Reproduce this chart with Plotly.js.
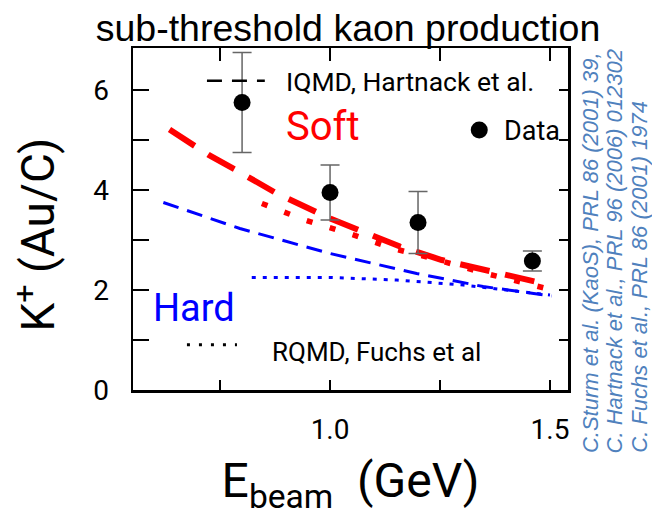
<!DOCTYPE html>
<html>
<head>
<meta charset="utf-8">
<script src="https://cdn.plot.ly/plotly-3.0.1.min.js"></script>
<style>
  html, body { margin: 0; padding: 0; background: #fff; }
  #chart { width: 652px; height: 525px; }
</style>
</head>
<body>
<div id="chart"></div>
<script>
// Beam energy (GeV) and K+ yield ratio Au/C

// KaoS measurement
const dataEnergy = [0.80, 1.00, 1.20, 1.46];
const dataRatio  = [5.75, 3.95, 3.35, 2.58];
const dataError  = [1.00, 0.55, 0.62, 0.20];

// IQMD, soft equation of state
const iqmdSoftEnergy = [0.635, 0.693, 0.724, 0.784, 0.875, 1.000, 1.159, 1.254, 1.360, 1.466, 1.490];
const iqmdSoftRatio  = [5.21, 4.88, 4.70, 4.41, 3.95, 3.43, 2.87, 2.60, 2.37, 2.17, 2.13];

// RQMD, soft equation of state
const rqmdSoftEnergy = [0.845, 0.943, 1.043, 1.144, 1.246, 1.345, 1.447, 1.500];
const rqmdSoftRatio  = [3.73, 3.40, 3.13, 2.83, 2.60, 2.35, 2.13, 2.01];

// IQMD, hard equation of state
const iqmdHardEnergy = [0.621, 0.795, 1.000, 1.197, 1.348, 1.504];
const iqmdHardRatio  = [3.75, 3.23, 2.73, 2.33, 2.07, 1.88];

// RQMD, hard equation of state
const rqmdHardEnergy = [0.822, 1.000, 1.152, 1.303, 1.500];
const rqmdHardRatio  = [2.25, 2.25, 2.20, 2.10, 1.90];

// Axis ticks
const xTickVals = [0.75, 1.0, 1.25, 1.5];
const xTickText = ['', '1.0', '', '1.5'];
const yTickVals = [0, 1, 2, 3, 4, 5, 6];
const yTickText = ['0', '', '2', '', '4', '', '6'];

const xRange = [0.552, 1.541];
const yRange = [0, 6.84];

const RED = '#ff0000';
const BLUE = '#0000ff';
const CITE = '#4f81bd';
const FONT = 'Roboto, "DejaVu Sans", sans-serif';
const ARIAL = '"Liberation Sans", Arial, sans-serif';

const traces = [
  {
    x: iqmdHardEnergy, y: iqmdHardRatio, mode: 'lines', name: 'IQMD hard',
    line: { color: BLUE, width: 3, dash: '16px,9px' }
  },
  {
    x: rqmdHardEnergy, y: rqmdHardRatio, mode: 'lines', name: 'RQMD hard',
    line: { color: BLUE, width: 3, dash: '4px,7px' }
  },
  {
    x: rqmdSoftEnergy, y: rqmdSoftRatio, mode: 'lines', name: 'RQMD soft',
    line: { color: RED, width: 5.5, dash: '6px,18px' }
  },
  {
    x: iqmdSoftEnergy, y: iqmdSoftRatio, mode: 'lines', name: 'IQMD soft',
    line: { color: RED, width: 6, dash: '30px,16px' }
  },
  {
    x: dataEnergy, y: dataRatio, mode: 'markers', name: 'Data',
    xaxis: 'x2', yaxis: 'y2',
    marker: { color: '#000', size: 17 },
    error_y: { type: 'data', array: dataError, visible: true,
               color: '#666', thickness: 1.5, width: 9.5 }
  }
];

const axisBase = {
  showgrid: false, zeroline: false, showline: true,
  linecolor: '#000', linewidth: 2.5,
  ticks: 'inside', tickwidth: 2, tickcolor: '#000'
};

const layout = {
  width: 652, height: 525,
  margin: { l: 133, r: 84, t: 48, b: 135 },
  paper_bgcolor: '#fff', plot_bgcolor: '#fff',
  showlegend: false,
  title: {
    text: 'sub-threshold kaon production',
    font: { family: ARIAL, size: 37.5, color: '#000' },
    x: 348 / 652, xref: 'container', xanchor: 'center',
    y: 1 - 28 / 525, yref: 'container', yanchor: 'middle'
  },
  xaxis: Object.assign({}, axisBase, {
    range: xRange, tickvals: xTickVals, ticktext: xTickText,
    ticklen: 10, ticklabelstandoff: 13,
    tickfont: { family: FONT, size: 28, color: '#000' },
    title: { text: 'E<sub>beam</sub>\u00a0\u00a0(GeV)',
             font: { family: FONT, size: 48, color: '#000' }, standoff: 19 }
  }),
  yaxis: Object.assign({}, axisBase, {
    range: yRange, tickvals: yTickVals, ticktext: yTickText,
    ticklen: 16, ticklabelstandoff: 16,
    tickfont: { family: FONT, size: 28, color: '#000' }
  }),
  xaxis2: Object.assign({}, axisBase, {
    overlaying: 'x', side: 'top', anchor: 'y2',
    range: xRange, tickvals: xTickVals, ticklen: 13, showticklabels: false
  }),
  yaxis2: Object.assign({}, axisBase, {
    overlaying: 'y', side: 'right', anchor: 'x2',
    range: yRange, tickvals: yTickVals, ticklen: 9, showticklabels: false
  }),
  shapes: [
    // legend sample: IQMD (dashed)
    { type: 'line', xref: 'paper', yref: 'paper', x0: 0.170, x1: 0.303, y0: 0.904, y1: 0.904,
      line: { color: '#000', width: 2.5, dash: '15px,10px' } },
    // legend sample: RQMD (dotted)
    { type: 'line', xref: 'paper', yref: 'paper', x0: 0.124, x1: 0.239, y0: 0.132, y1: 0.132,
      line: { color: '#000', width: 3, dash: '3px,9px' } },
    // legend sample: data point
    { type: 'circle', xref: 'paper', yref: 'paper', xsizemode: 'pixel', ysizemode: 'pixel',
      xanchor: 0.796, yanchor: 0.760, x0: -8.5, x1: 8.5, y0: -8.5, y1: 8.5,
      fillcolor: '#000', line: { width: 0 } }
  ],
  annotations: [
    { text: 'IQMD, Hartnack et al.', xref: 'paper', yref: 'paper', x: 0.347, y: 0.903,
      xanchor: 'left', yanchor: 'middle', showarrow: false,
      font: { family: FONT, size: 26.5, color: '#000' } },
    { text: 'Soft', xref: 'paper', yref: 'paper', x: 0.348, y: 0.771,
      xanchor: 'left', yanchor: 'middle', showarrow: false,
      font: { family: FONT, size: 40, color: RED } },
    { text: 'Data', xref: 'paper', yref: 'paper', x: 0.849, y: 0.757,
      xanchor: 'left', yanchor: 'middle', showarrow: false,
      font: { family: FONT, size: 27, color: '#000' } },
    { text: 'Hard', xref: 'paper', yref: 'paper', x: 0.042, y: 0.241,
      xanchor: 'left', yanchor: 'middle', showarrow: false,
      font: { family: FONT, size: 38, color: BLUE } },
    { text: 'RQMD, Fuchs et al', xref: 'paper', yref: 'paper', x: 0.316, y: 0.111,
      xanchor: 'left', yanchor: 'middle', showarrow: false,
      font: { family: FONT, size: 26, color: '#000' } },
    // y-axis title
    { text: 'K<sup>+</sup> (Au/C)', xref: 'paper', yref: 'paper', x: -0.225, y: 0.455,
      xanchor: 'center', yanchor: 'middle', textangle: -90, showarrow: false,
      font: { family: FONT, size: 46, color: '#000' } },
    // references
    { text: '<i>C.Sturm et al. (KaoS), PRL 86 (2001) 39,</i>', xref: 'paper', yref: 'paper',
      x: 1.052, y: -0.190, xanchor: 'center', yanchor: 'bottom', textangle: -90, showarrow: false,
      font: { family: ARIAL, size: 22, color: CITE } },
    { text: '<i>C. Hartnack et al., PRL 96 (2006) 012302</i>', xref: 'paper', yref: 'paper',
      x: 1.109, y: -0.190, xanchor: 'center', yanchor: 'bottom', textangle: -90, showarrow: false,
      font: { family: ARIAL, size: 22, color: CITE } },
    { text: '<i>C. Fuchs et al., PRL 86 (2001) 1974</i>', xref: 'paper', yref: 'paper',
      x: 1.165, y: -0.190, xanchor: 'center', yanchor: 'bottom', textangle: -90, showarrow: false,
      font: { family: ARIAL, size: 22, color: CITE } }
  ]
};

Plotly.newPlot('chart', traces, layout, { displayModeBar: false, staticPlot: true });
</script>
</body>
</html>
